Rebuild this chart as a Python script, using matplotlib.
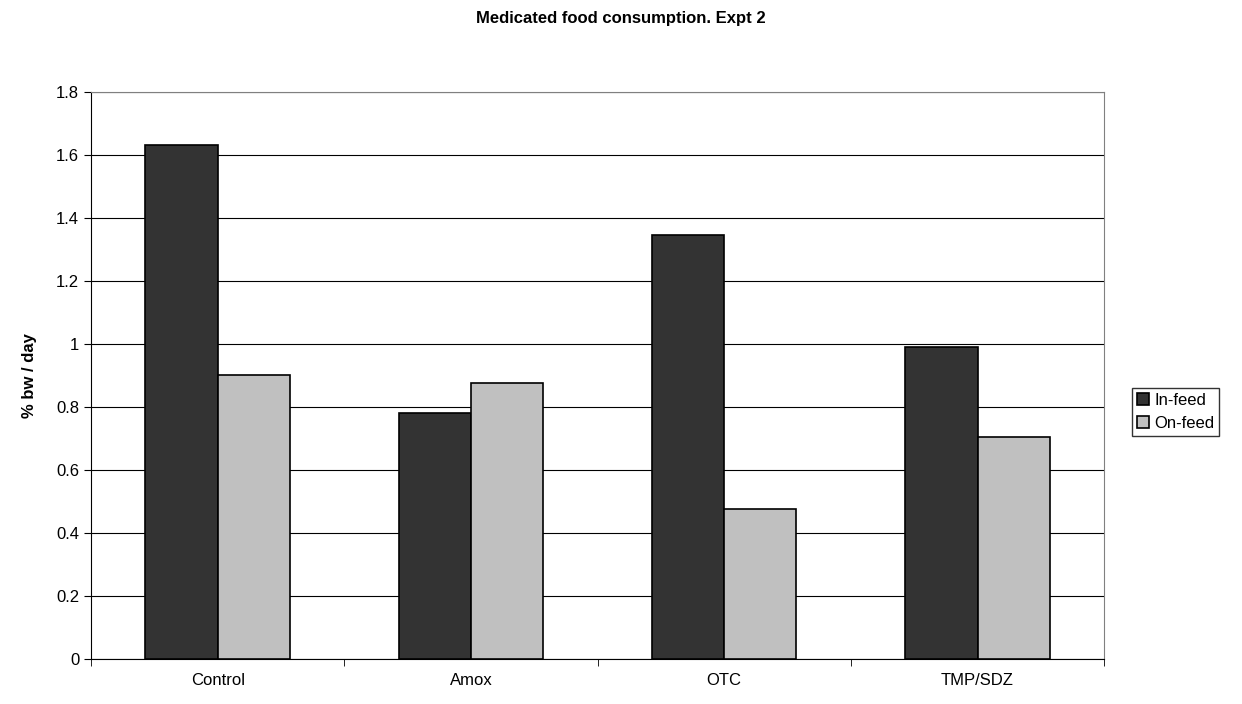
import numpy as np
import matplotlib.pyplot as plt

# Data
categories = ['Control', 'Amox', 'OTC', 'TMP/SDZ']
in_feed = [1.632, 0.782, 1.346, 0.990]
on_feed = [0.902, 0.878, 0.476, 0.705]

plt.rcParams['font.family'] = ['Liberation Sans', 'DejaVu Sans']

f = plt.figure(figsize=(12.42, 7.04), dpi=100)
ax = f.add_axes([0.0733, 0.064, 0.8157, 0.805])

x = np.arange(len(categories))
w = 0.285
ax.bar(x - w/2, in_feed, w, color='#333333', edgecolor='black', linewidth=1.2, label='In-feed', zorder=3)
ax.bar(x + w/2, on_feed, w, color='#c0c0c0', edgecolor='black', linewidth=1.2, label='On-feed', zorder=3)

ax.set_xlim(-0.5, len(categories) - 0.5)
ax.set_ylim(0, 1.8)
ax.set_yticks(np.arange(0, 1.81, 0.2))
ax.set_yticklabels(['0', '0.2', '0.4', '0.6', '0.8', '1', '1.2', '1.4', '1.6', '1.8'])
ax.set_xticks(x)
ax.set_xticklabels(categories)
ax.set_xticks(np.arange(-0.5, len(categories)), minor=True)
ax.tick_params(axis='x', which='major', length=0, pad=10, labelsize=12)
ax.tick_params(axis='x', which='minor', length=5, direction='out')
ax.tick_params(axis='y', length=5, direction='out', labelsize=12)
ax.grid(axis='y', color='black', linewidth=0.8, zorder=0)
for s in ['top', 'right']:
    ax.spines[s].set_color('#808080')
ax.set_ylabel('% bw / day', fontsize=12, fontweight='bold', labelpad=14)

f.suptitle('Medicated food consumption. Expt 2', fontsize=12, fontweight='bold', y=0.985)
f.legend(loc='center left', bbox_to_anchor=(0.905, 0.415), fontsize=12, frameon=True,
         fancybox=False, edgecolor='black', handlelength=0.7, handletextpad=0.3,
         borderpad=0.3, labelspacing=0.5)

plt.savefig('out.png')
